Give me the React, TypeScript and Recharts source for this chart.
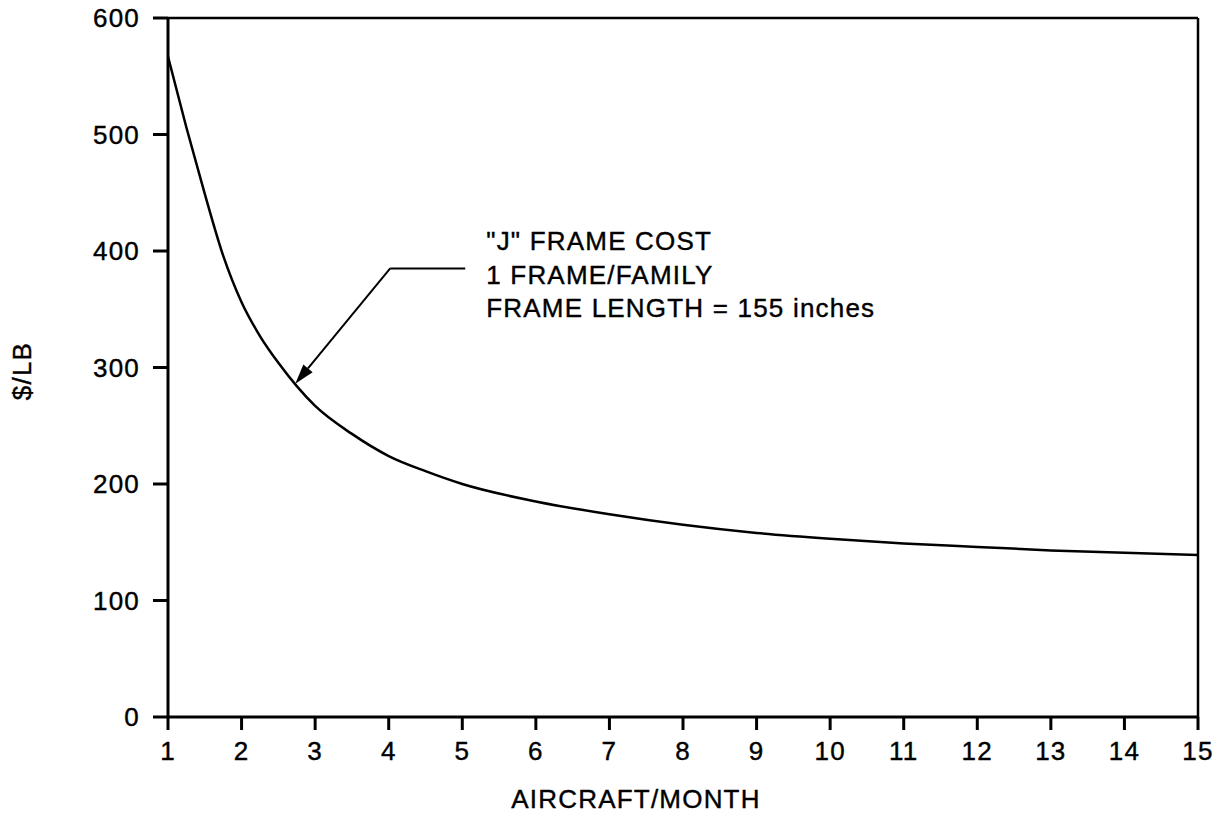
import React from 'react';
import {
  LineChart,
  Line,
  XAxis,
  YAxis,
  ReferenceLine,
  Label,
} from 'recharts';

// aircraft/month vs $/LB
const rates = [1, 1.25, 1.5, 1.75, 2, 2.25, 2.5, 2.75, 3, 3.5, 4, 4.5, 5, 6, 7, 8, 9, 10, 11, 12, 13, 14, 15];
const costs = [567, 506, 449, 396, 356, 327, 304, 284, 267, 243, 224, 211, 200, 185, 174, 165, 158, 153, 149, 146, 143, 141, 139];

const xTicks = [1, 2, 3, 4, 5, 6, 7, 8, 9, 10, 11, 12, 13, 14, 15];
const yTicks = [0, 100, 200, 300, 400, 500, 600];

const noteLines = ['"J" FRAME COST', '1 FRAME/FAMILY', 'FRAME LENGTH = 155 inches'];
const noteElbow = { x: 4.02, y: 385 };
const noteEnd = { x: 5.04, y: 385 };
const noteTip = { x: 2.73, y: 286 };

const data = rates.map((r, i) => ({ rate: r, cost: costs[i] }));

const FONT = '"Liberation Sans", Arial, Helvetica, sans-serif';
const textStyle = {
  fill: '#000',
  fontSize: 26,
  fontFamily: FONT,
  letterSpacing: 1.2,
  stroke: '#000',
  strokeWidth: 0.4,
};

function ArrowShape(props: any) {
  const { x1, y1, x2, y2 } = props;
  const ang = Math.atan2(y2 - y1, x2 - x1);
  const len = 20;
  const half = 6;
  const bx = x2 - len * Math.cos(ang);
  const by = y2 - len * Math.sin(ang);
  const px = -Math.sin(ang) * half;
  const py = Math.cos(ang) * half;
  return (
    <g>
      <line x1={x1} y1={y1} x2={bx} y2={by} stroke="#000" strokeWidth={2} />
      <polygon
        points={`${x2},${y2} ${bx + px},${by + py} ${bx - px},${by - py}`}
        fill="#000"
      />
    </g>
  );
}

function NoteShape(props: any) {
  const { x1, y1, x2, y2 } = props;
  const tx = x2 + 21;
  return (
    <g>
      <line x1={x1} y1={y1} x2={x2} y2={y2} stroke="#000" strokeWidth={2} />
      {noteLines.map((t, i) => (
        <text key={t} x={tx} y={y1 - 18 + i * 33.5} style={textStyle}>
          {t}
        </text>
      ))}
    </g>
  );
}

export default function App() {
  return (
    <div style={{ position: 'absolute', left: 0, top: 0, background: '#fff' }}>
      <LineChart
        width={1215}
        height={815}
        data={data}
        margin={{ top: 18, right: 17, left: 0, bottom: 0 }}
      >
        <XAxis
          dataKey="rate"
          type="number"
          domain={[1, 15]}
          ticks={xTicks}
          allowDataOverflow
          height={98}
          tickSize={13}
          tickMargin={12}
          interval={0}
          stroke="#000"
          strokeWidth={3}
          tick={textStyle}
        >
          <Label
            content={({ viewBox }: any) => (
              <text
                x={viewBox.x + viewBox.width / 2 - 47}
                y={808}
                textAnchor="middle"
                style={textStyle}
              >
                AIRCRAFT/MONTH
              </text>
            )}
          />
        </XAxis>
        <YAxis
          type="number"
          domain={[0, 600]}
          ticks={yTicks}
          width={168}
          tickSize={15}
          tickMargin={13}
          interval={0}
          stroke="#000"
          strokeWidth={3}
          tick={textStyle}
        >
          <Label
            content={() => (
              <text
                x={22}
                y={371}
                transform="rotate(-90 22 371)"
                textAnchor="middle"
                dominantBaseline="central"
                style={textStyle}
              >
                $/LB
              </text>
            )}
          />
        </YAxis>
        <ReferenceLine y={600} stroke="#000" strokeWidth={2.5} />
        <ReferenceLine x={15} stroke="#000" strokeWidth={2.5} />
        <ReferenceLine
          segment={[noteElbow, noteTip]}
          shape={ArrowShape}
          ifOverflow="visible"
        />
        <ReferenceLine
          segment={[noteElbow, noteEnd]}
          shape={NoteShape}
          ifOverflow="visible"
        />
        <Line
          type="monotone"
          dataKey="cost"
          stroke="#000"
          strokeWidth={2.5}
          dot={false}
          isAnimationActive={false}
        />
      </LineChart>
    </div>
  );
}
